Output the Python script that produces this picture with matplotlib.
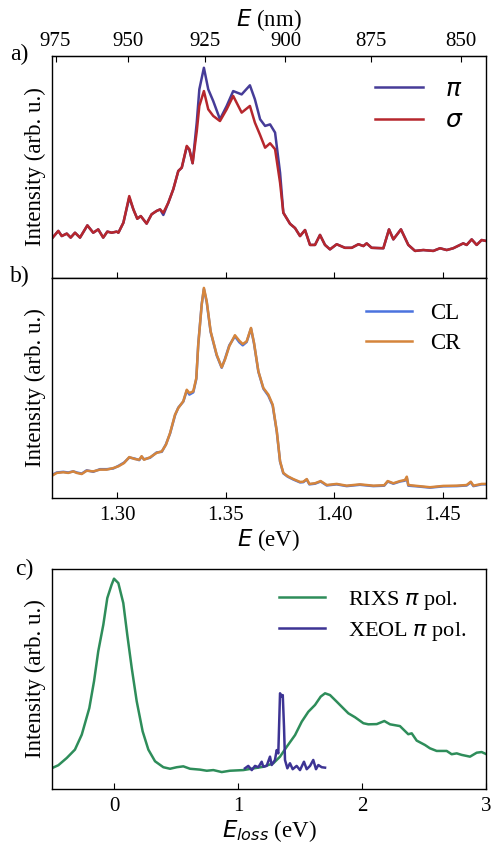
import matplotlib
matplotlib.use("Agg")
import matplotlib.pyplot as plt
import numpy as np

plt.rcParams['font.family'] = ['Liberation Serif', 'DejaVu Sans']
plt.rcParams['mathtext.fontset'] = 'dejavusans'

# ---------------- Panel a: linear polarisation (pi / sigma) ----------------
E_a = [1.2703, 1.2729, 1.2745, 1.2768, 1.2786, 1.2806, 1.2829, 1.2863, 1.2890, 1.2913,
       1.2936, 1.2955, 1.2975, 1.2998, 1.3006, 1.3029, 1.3056, 1.3075, 1.3093, 1.3109,
       1.3136, 1.3159, 1.3182, 1.3198, 1.3213, 1.3236, 1.3259, 1.3282, 1.3298, 1.3321,
       1.3333, 1.3348, 1.3367, 1.3379, 1.3400, 1.3420, 1.3443, 1.3474, 1.3505, 1.3535,
       1.3574, 1.3612, 1.3635, 1.3659, 1.3682, 1.3705, 1.3728, 1.3751, 1.3766, 1.3797,
       1.3820, 1.3843, 1.3866, 1.3889, 1.3912, 1.3935, 1.3958, 1.3981, 1.4012, 1.4050,
       1.4081, 1.4112, 1.4135, 1.4150, 1.4173, 1.4227, 1.4253, 1.4273, 1.4308, 1.4342,
       1.4373, 1.4411, 1.4457, 1.4488, 1.4519, 1.4549, 1.4595, 1.4611, 1.4634, 1.4657,
       1.4680, 1.4700]
I_pi = [0.182, 0.212, 0.189, 0.200, 0.182, 0.204, 0.182, 0.237, 0.204, 0.219,
        0.182, 0.209, 0.204, 0.209, 0.204, 0.249, 0.362, 0.309, 0.267, 0.279,
        0.245, 0.287, 0.302, 0.309, 0.284, 0.339, 0.400, 0.482, 0.497, 0.590,
        0.578, 0.517, 0.700, 0.850, 0.947, 0.850, 0.797, 0.715, 0.775, 0.842,
        0.827, 0.868, 0.805, 0.715, 0.685, 0.692, 0.655, 0.474, 0.294, 0.244,
        0.225, 0.189, 0.216, 0.149, 0.149, 0.194, 0.149, 0.129, 0.152, 0.136,
        0.136, 0.152, 0.144, 0.156, 0.136, 0.134, 0.219, 0.174, 0.219, 0.149,
        0.122, 0.126, 0.122, 0.134, 0.126, 0.134, 0.156, 0.149, 0.174, 0.149,
        0.171, 0.167]
I_sigma = [0.182, 0.212, 0.189, 0.200, 0.182, 0.204, 0.182, 0.237, 0.204, 0.219,
           0.182, 0.209, 0.204, 0.209, 0.204, 0.249, 0.369, 0.309, 0.267, 0.279,
           0.245, 0.287, 0.302, 0.309, 0.294, 0.339, 0.400, 0.482, 0.497, 0.595,
           0.580, 0.517, 0.660, 0.775, 0.842, 0.760, 0.730, 0.707, 0.760, 0.820,
           0.745, 0.775, 0.700, 0.644, 0.587, 0.607, 0.580, 0.429, 0.294, 0.244,
           0.225, 0.189, 0.216, 0.149, 0.149, 0.194, 0.149, 0.129, 0.152, 0.136,
           0.136, 0.152, 0.144, 0.156, 0.136, 0.134, 0.219, 0.174, 0.219, 0.149,
           0.122, 0.126, 0.122, 0.134, 0.126, 0.134, 0.156, 0.149, 0.174, 0.149,
           0.171, 0.167]

# ---------------- Panel b: circular polarisation (CL / CR) ----------------
E_b = [1.2703, 1.2722, 1.2752, 1.2775, 1.2798, 1.2814, 1.2837, 1.2860, 1.2890, 1.2921,
       1.2952, 1.2982, 1.3006, 1.3032, 1.3056, 1.3082, 1.3102, 1.3113, 1.3124, 1.3152,
       1.3182, 1.3206, 1.3225, 1.3244, 1.3267, 1.3282, 1.3305, 1.3321, 1.3333, 1.3351,
       1.3365, 1.3374, 1.3390, 1.3400, 1.3413, 1.3431, 1.3459, 1.3482, 1.3497, 1.3517,
       1.3543, 1.3563, 1.3579, 1.3597, 1.3617, 1.3631, 1.3651, 1.3674, 1.3697, 1.3717,
       1.3736, 1.3751, 1.3766, 1.3786, 1.3812, 1.3843, 1.3858, 1.3874, 1.3886, 1.3912,
       1.3938, 1.3966, 1.4012, 1.4058, 1.4119, 1.4181, 1.4231, 1.4247, 1.4273, 1.4304,
       1.4327, 1.4335, 1.4342, 1.4381, 1.4442, 1.4503, 1.4565, 1.4611, 1.4630, 1.4642,
       1.4680, 1.4700]
I_CR = [0.103, 0.114, 0.117, 0.114, 0.121, 0.114, 0.109, 0.124, 0.121, 0.129,
        0.129, 0.136, 0.144, 0.159, 0.186, 0.177, 0.174, 0.190, 0.174, 0.185,
        0.205, 0.212, 0.242, 0.295, 0.379, 0.409, 0.440, 0.492, 0.477, 0.485,
        0.545, 0.697, 0.879, 0.955, 0.894, 0.758, 0.651, 0.594, 0.629, 0.690,
        0.740, 0.715, 0.700, 0.712, 0.773, 0.705, 0.576, 0.500, 0.470, 0.424,
        0.303, 0.167, 0.114, 0.099, 0.086, 0.073, 0.074, 0.086, 0.064, 0.067,
        0.077, 0.059, 0.064, 0.056, 0.062, 0.056, 0.058, 0.077, 0.067, 0.077,
        0.082, 0.097, 0.059, 0.055, 0.049, 0.055, 0.056, 0.059, 0.074, 0.056,
        0.064, 0.064]
I_CL = [0.106, 0.116, 0.119, 0.116, 0.121, 0.116, 0.111, 0.126, 0.119, 0.131,
        0.131, 0.134, 0.146, 0.161, 0.184, 0.179, 0.172, 0.188, 0.176, 0.183,
        0.207, 0.210, 0.244, 0.293, 0.376, 0.411, 0.438, 0.488, 0.470, 0.480,
        0.541, 0.700, 0.882, 0.950, 0.890, 0.755, 0.648, 0.592, 0.632, 0.694,
        0.735, 0.708, 0.694, 0.709, 0.770, 0.702, 0.574, 0.497, 0.465, 0.420,
        0.300, 0.165, 0.112, 0.097, 0.084, 0.071, 0.072, 0.084, 0.062, 0.065,
        0.075, 0.057, 0.062, 0.054, 0.060, 0.054, 0.056, 0.075, 0.065, 0.075,
        0.079, 0.092, 0.056, 0.053, 0.047, 0.053, 0.054, 0.057, 0.071, 0.054,
        0.062, 0.062]

# ---------------- Panel c: RIXS and XEOL vs energy loss ----------------
Eloss_rixs = [-0.500, -0.449, -0.381, -0.315, -0.260, -0.199, -0.161, -0.127, -0.086, -0.054,
              -0.019, 0.000, 0.035, 0.075, 0.107, 0.143, 0.183, 0.231, 0.277, 0.331,
              0.398, 0.452, 0.506, 0.559, 0.613, 0.694, 0.748, 0.801, 0.869, 0.935,
              1.043, 1.204, 1.285, 1.339, 1.393, 1.460, 1.514, 1.567, 1.621, 1.667,
              1.702, 1.742, 1.796, 1.849, 1.890, 1.944, 2.011, 2.051, 2.119, 2.180,
              2.226, 2.306, 2.373, 2.401, 2.441, 2.508, 2.548, 2.602, 2.683, 2.723,
              2.764, 2.804, 2.871, 2.925, 2.965, 3.000]
I_rixs = [0.095, 0.108, 0.141, 0.179, 0.247, 0.368, 0.490, 0.626, 0.747, 0.868,
          0.929, 0.956, 0.936, 0.845, 0.701, 0.550, 0.399, 0.262, 0.179, 0.126,
          0.099, 0.092, 0.099, 0.103, 0.092, 0.088, 0.083, 0.086, 0.077, 0.083,
          0.086, 0.101, 0.117, 0.147, 0.192, 0.245, 0.306, 0.351, 0.382, 0.420,
          0.435, 0.427, 0.397, 0.367, 0.344, 0.326, 0.299, 0.294, 0.295, 0.309,
          0.294, 0.286, 0.249, 0.253, 0.220, 0.200, 0.185, 0.173, 0.173, 0.158,
          0.162, 0.155, 0.147, 0.165, 0.168, 0.159]
Eloss_xeol = [1.056, 1.083, 1.111, 1.137, 1.164, 1.191, 1.204, 1.231, 1.258, 1.272,
              1.298, 1.312, 1.325, 1.339, 1.352, 1.361, 1.371, 1.379, 1.398, 1.419,
              1.441, 1.473, 1.500, 1.532, 1.554, 1.581, 1.607, 1.629, 1.648, 1.675,
              1.702]
I_xeol = [0.094, 0.105, 0.086, 0.105, 0.099, 0.124, 0.101, 0.105, 0.147, 0.109,
          0.132, 0.177, 0.162, 0.435, 0.420, 0.427, 0.283, 0.132, 0.094, 0.117,
          0.090, 0.105, 0.086, 0.124, 0.090, 0.105, 0.132, 0.090, 0.109, 0.099,
          0.097]

wl_ticks = [975, 950, 925, 900, 875, 850]
eV_ticks = [1.30, 1.35, 1.40, 1.45]
loss_ticks = [0, 1, 2, 3]

HC = 1239.84

fig = plt.figure(figsize=(4.91, 8.44), dpi=100)
W, H = 491.0, 844.0
def axes_px(left, top, right, bottom):
    return fig.add_axes([left / W, 1 - bottom / H, (right - left) / W, (bottom - top) / H])

ax_a = axes_px(52, 56, 486, 278)
ax_b = axes_px(52, 278, 486, 498)
ax_c = axes_px(52, 569, 486, 789)

fs_tick = 15
fs_lab = 16.5

c_pi = '#463c98'
c_sigma = '#b6272d'
c_cl = '#4b73de'
c_cr = '#d5853c'
c_rixs = '#2e8d5a'
c_xeol = '#3d3494'
lw = 1.8

# panel a
ax_a.plot(E_a, I_pi, color=c_pi, lw=lw, label=r'$\pi$', solid_joinstyle='round')
ax_a.plot(E_a, I_sigma, color=c_sigma, lw=lw, label=r'$\sigma$', solid_joinstyle='round')
ax_a.set_xlim(1.27, 1.47)
ax_a.set_ylim(0, 1.0)
ax_a.set_yticks([])
ax_a.set_xticks(eV_ticks)
ax_a.tick_params(axis='x', direction='in', labelbottom=False, length=4)
ax_a.set_ylabel('Intensity (arb. u.)', fontsize=fs_lab, labelpad=4)
sec = ax_a.secondary_xaxis('top', functions=(lambda e: HC / np.asarray(e, dtype=float),
                                             lambda w: HC / np.asarray(w, dtype=float)))
sec.set_xticks(wl_ticks)
sec.set_xticklabels([str(t) for t in wl_ticks])
sec.tick_params(direction='in', labelsize=fs_tick, length=4, pad=3.5)
sec.set_xlabel(r'$E$ (nm)', fontsize=fs_lab, labelpad=4.5)
ax_a.legend(loc='upper right', frameon=False, fontsize=18, handlelength=1.9,
            handletextpad=0.9, borderaxespad=0.5, labelspacing=0.35)

# panel b
ax_b.plot(E_b, I_CL, color=c_cl, lw=lw, label='CL', solid_joinstyle='round')
ax_b.plot(E_b, I_CR, color=c_cr, lw=lw, label='CR', solid_joinstyle='round')
ax_b.set_xlim(1.27, 1.47)
ax_b.set_ylim(0, 1.0)
ax_b.set_yticks([])
ax_b.set_xticks(eV_ticks)
ax_b.set_xticklabels(['%.2f' % t for t in eV_ticks])
ax_b.tick_params(axis='x', direction='in', labelsize=fs_tick, length=4, pad=6)
ax_b.set_ylabel('Intensity (arb. u.)', fontsize=fs_lab, labelpad=4)
ax_b.set_xlabel(r'$E$ (eV)', fontsize=fs_lab, labelpad=1)
ax_b.legend(loc='upper right', frameon=False, fontsize=16.5, handlelength=2.0,
            handletextpad=0.8, borderaxespad=0.7, labelspacing=0.4)

# panel c
ax_c.plot(Eloss_rixs, I_rixs, color=c_rixs, lw=lw, label=r'RIXS $\pi$ pol.', solid_joinstyle='round')
ax_c.plot(Eloss_xeol, I_xeol, color=c_xeol, lw=lw, label=r'XEOL $\pi$ pol.', solid_joinstyle='round')
ax_c.set_xlim(-0.5, 3.0)
ax_c.set_ylim(0, 1.0)
ax_c.set_yticks([])
ax_c.set_xticks(loss_ticks)
ax_c.set_xticklabels([str(t) for t in loss_ticks])
ax_c.tick_params(axis='x', direction='in', labelsize=fs_tick, length=4, pad=6)
ax_c.set_ylabel('Intensity (arb. u.)', fontsize=fs_lab, labelpad=4)
ax_c.set_xlabel(r'$E_{loss}$ (eV)', fontsize=fs_lab, labelpad=1)
ax_c.legend(loc='upper right', frameon=False, fontsize=16, handlelength=2.1,
            handletextpad=1.0, borderaxespad=0.5, labelspacing=0.35)

for ax in (ax_a, ax_b, ax_c):
    for s in ax.spines.values():
        s.set_linewidth(1.0)

fig.text(10 / W, 1 - 60 / H, 'a)', fontsize=17)
fig.text(10 / W, 1 - 282 / H, 'b)', fontsize=17)
fig.text(15 / W, 1 - 575 / H, 'c)', fontsize=17)

fig.savefig('out.png', dpi=100)
